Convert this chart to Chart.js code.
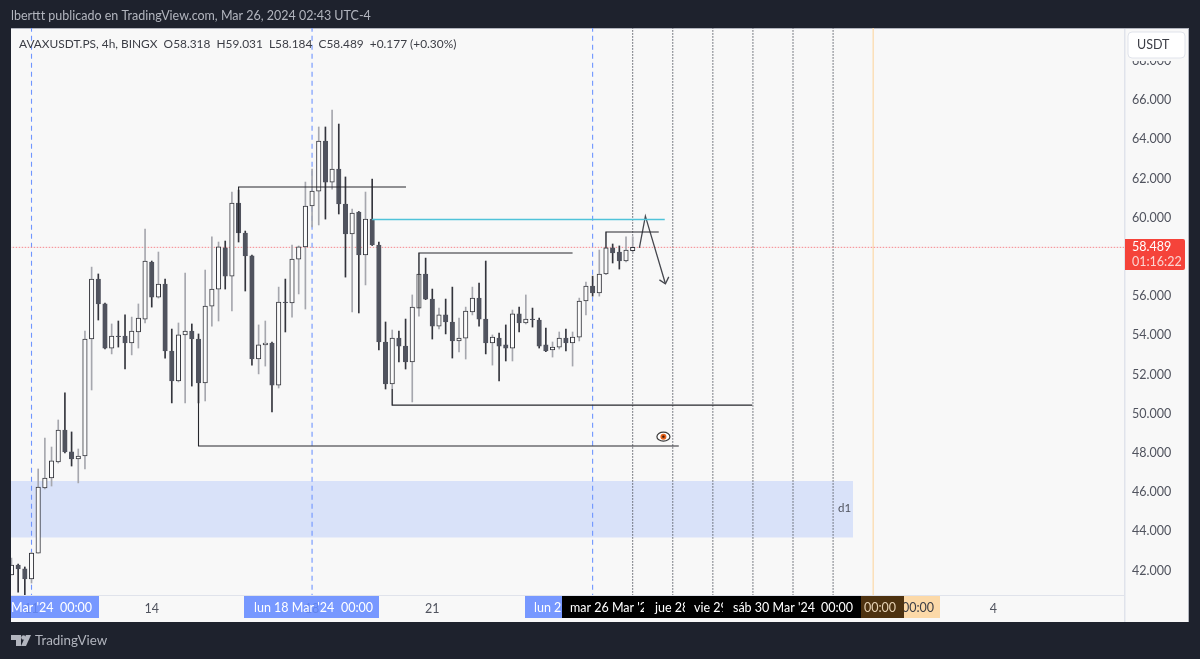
<!DOCTYPE html>
<html>
<head>
<meta charset="utf-8">
<style>
  html, body { margin: 0; padding: 0; background: #1e222d; }
  #wrap { position: relative; width: 1200px; height: 659px; }
</style>
<script src="https://cdn.jsdelivr.net/npm/chart.js@4.4.7/dist/chart.umd.min.js"></script>
</head>
<body>
<div id="wrap"><canvas id="avaxChart" width="1200" height="659"></canvas></div>
<script>
// bar number 0 is lun 11 Mar 00:00, 6 bars (4h) per day
const firstBar = -3;
const opens = [41.77,42.28,42.08,41.57,42.89,46.21,46.72,47.54,49.17,48.05,47.69,47.84,53.81,56.87,55.60,53.35,53.96,53.96,53.61,54.17,54.83,57.74,55.95,56.61,53.20,51.67,54.02,54.22,53.81,51.57,55.49,56.36,58.46,57.02,60.75,59.22,58.05,52.79,53.51,53.61,51.46,55.70,55.65,57.89,58.51,60.60,61.36,63.91,61.82,62.48,60.70,59.17,60.29,58.10,59.93,58.61,53.66,51.52,53.86,53.45,52.64,55.39,57.13,55.85,54.47,55.04,54.68,53.71,53.86,55.19,55.90,54.83,53.61,53.86,53.51,53.35,55.09,54.63,54.83,54.78,53.51,53.25,53.40,53.86,53.61,53.91,55.75,56.51,56.16,57.13,58.46,58.25,57.79,58.318];
const highs = [42.64,42.33,42.18,42.93,47.18,48.76,48.30,49.68,51.06,49.07,48.20,54.22,57.48,57.13,55.65,54.58,54.73,55.04,54.93,55.60,59.42,57.79,58.25,56.87,54.32,54.63,57.18,54.58,54.07,57.33,59.02,58.76,58.81,61.31,61.41,59.32,58.10,54.53,54.73,53.66,56.46,56.87,58.61,58.56,61.82,62.48,64.63,64.63,65.49,64.78,62.08,60.44,60.32,61.31,61.97,58.76,54.68,54.27,54.22,54.83,56.06,58.20,57.94,56.36,55.39,55.85,56.46,54.88,55.44,56.46,56.67,57.79,54.02,54.12,54.53,55.29,55.44,56.06,55.39,54.88,54.37,53.66,54.17,54.32,54.17,55.90,56.72,57.02,58.35,59.27,58.66,58.56,59.02,59.031];
const lows = [41.77,40.90,40.75,41.36,42.89,46.16,46.31,47.48,48.00,47.33,46.47,47.18,51.21,54.78,53.30,53.05,53.40,52.28,53.00,53.35,54.63,55.44,55.90,52.84,50.55,51.62,50.55,51.41,50.55,50.65,54.47,54.73,56.36,55.24,58.76,56.26,52.48,52.03,52.43,50.09,51.31,54.17,54.93,56.11,55.34,59.53,59.63,59.93,61.46,60.19,56.97,55.19,55.14,56.57,58.58,53.25,51.26,50.44,52.64,52.28,50.60,54.98,55.82,53.81,54.32,54.07,52.84,53.15,52.79,55.04,54.47,53.05,52.48,51.67,52.69,52.69,54.17,54.58,54.42,53.35,53.17,52.89,53.30,53.20,52.43,53.71,55.04,56.00,56.00,57.10,57.69,57.38,57.74,58.184];
const closes = [42.28,42.08,41.57,42.89,46.26,46.72,47.59,49.17,48.05,47.69,47.84,53.81,56.87,55.60,53.35,53.96,53.93,53.61,54.22,54.88,57.79,55.95,56.61,53.20,51.67,54.02,54.22,53.81,51.57,55.49,56.36,58.51,57.02,60.75,59.22,58.05,52.79,53.51,53.61,51.46,55.70,55.67,57.89,58.51,60.60,61.36,63.91,61.82,62.48,60.70,59.17,60.24,58.10,59.93,58.61,53.66,51.52,53.86,53.45,52.64,55.44,57.13,55.85,54.47,55.04,54.68,53.71,53.86,55.24,55.90,54.83,53.61,53.91,53.45,53.35,55.09,54.63,54.83,54.80,53.45,53.20,53.40,53.86,53.61,53.91,55.75,56.51,56.16,57.13,58.46,58.20,57.79,58.35,58.489];

const priceTicks = [42,44,46,48,50,52,54,56,58,60,62,64,66,68];
const timeTickBars = [0,18,42,60,84,102,126,144];
const timeTickLabels = ['11','14','18','21','25','28','Apr','4'];

const lastPrice = 58.489;
const blueLines = [0,42,84];
const dottedLines = [90,96,102,108,114,120];
const orangeLine = 126;

// drawings, as [bar, price] points
const zoneTop = 46.57;
const zoneBottom = 43.69;
const zoneBars = [-10,123];
const tealLine = [[51,59.91],[94.8,59.91]];
const blackLines = [
  [[31,59.22],[31,61.57],[56.06,61.57]],
  [[58,55.39],[58,58.20],[81,58.20]],
  [[86,58.46],[86,59.27],[93.9,59.27]],
  [[54,51.26],[54,50.44],[107.9,50.44]],
  [[25,51.57],[25,48.35],[96.9,48.35]]
];
const arrowLine = [[91,58.46],[91.9,60.08],[94.9,56.63]];
const arrowHead = [[94,56.83],[94.9,56.63],[95.4,56.98]];
const eyePoint = [94.6,48.83];
const zoneText = 'd1';

const fontName = 'Lato, sans-serif';
const barAt = i => firstBar + i;
const xyPts = pts => pts.map(p => ({x: p[0], y: p[1]}));
const isUp = i => closes[i] >= opens[i];

function vline(bar, color, dash, width, order) {
  return {
    type: 'line',
    data: [{x: bar, y: 30}, {x: bar, y: 80}],
    borderColor: color, borderWidth: width, borderDash: dash,
    pointRadius: 0, order: order
  };
}
function path(pts, color, width, order) {
  return {
    type: 'line', data: xyPts(pts), borderColor: color, borderWidth: width,
    pointRadius: 0, tension: 0, order: order
  };
}

const datasets = [];
// blue zone
datasets.push({
  type: 'line', data: xyPts([[zoneBars[0],zoneTop],[zoneBars[1],zoneTop]]),
  borderWidth: 0, pointRadius: 0, fill: '+1', backgroundColor: '#d9e2f9', order: 20
});
datasets.push({
  type: 'line', data: xyPts([[zoneBars[0],zoneBottom],[zoneBars[1],zoneBottom]]),
  borderWidth: 0, pointRadius: 0, fill: false, order: 20
});
blueLines.forEach(b => datasets.push(vline(b, '#6f95ff', [5,4], 1.1, 12)));
dottedLines.forEach(b => datasets.push(vline(b, '#555962', [1.5,1.5], 1, 12)));
datasets.push(vline(orangeLine, '#fcd9a8', [], 1.2, 12));
datasets.push({
  type: 'line', data: xyPts([[-10,lastPrice],[170,lastPrice]]),
  borderColor: '#f7868c', borderWidth: 1, borderDash: [1.5,1.5], pointRadius: 0, order: 11
});
// wicks then bodies
datasets.push({
  type: 'bar',
  data: opens.map((_, i) => ({x: barAt(i), y: [lows[i], highs[i]]})),
  backgroundColor: opens.map((_, i) => isUp(i) ? '#a6a7ae' : '#34353d'),
  barThickness: 1, grouped: false, order: 6
});
datasets.push({
  type: 'bar',
  data: opens.map((_, i) => ({x: barAt(i), y: [opens[i], closes[i]]})),
  backgroundColor: opens.map((_, i) => isUp(i) ? '#fbfbfb' : '#50535e'),
  borderColor: opens.map((_, i) => isUp(i) ? '#33343b' : '#50535e'),
  borderWidth: 1, borderSkipped: false,
  barThickness: 4.5, grouped: false, order: 5
});
datasets.push(path(tealLine, '#4fc3d9', 1.5, 3));
blackLines.forEach(l => datasets.push(path(l, '#26272c', 1.1, 3)));
datasets.push(path(arrowLine, '#45474e', 1.3, 3));
datasets.push(path(arrowHead, '#45474e', 1.3, 3));

function clipText(ctx, text, x, y, clipX, clipW, color) {
  ctx.save();
  ctx.beginPath();
  ctx.rect(clipX, 595, clipW, 24);
  ctx.clip();
  ctx.fillStyle = color;
  ctx.fillText(text, x, y);
  ctx.restore();
}

const overlayPlugin = {
  id: 'overlay',
  beforeDraw(chart) {
    const ctx = chart.ctx;
    ctx.save();
    ctx.fillStyle = '#1e222d';
    ctx.fillRect(0, 0, 1200, 659);
    ctx.fillStyle = '#f8f8f8';
    ctx.fillRect(11, 28, 1178, 594);
    ctx.fillStyle = '#b2b5be';
    ctx.fillRect(1188, 28, 1, 594);
    ctx.fillRect(11, 28, 1178, 1);
    ctx.fillStyle = '#e0e3eb';
    ctx.fillRect(1124, 29, 1.5, 593);
    ctx.fillRect(11, 595, 1113, 1);
    ctx.restore();
  },
  afterDraw(chart) {
    const ctx = chart.ctx;
    const xs = chart.scales.x, ys = chart.scales.y;
    ctx.save();
    ctx.textBaseline = 'middle';
    ctx.textAlign = 'left';

    // header and legend
    ctx.font = '12.5px ' + fontName;
    ctx.fillStyle = '#b2b5be';
    ctx.fillText('lberttt publicado en TradingView.com, Mar 26, 2024 02:43 UTC-4', 11, 16);
    ctx.font = '11.9px ' + fontName;
    ctx.fillStyle = '#3b3d45';
    ctx.fillText('AVAXUSDT.PS, 4h, BINGX  O58.318  H59.031  L58.184  C58.489  +0.177 (+0.30%)', 19, 44);

    // zone label
    ctx.fillStyle = '#50535e';
    ctx.font = '11.5px ' + fontName;
    ctx.fillText(zoneText, 838, 508);

    // eye marker
    const ex = xs.getPixelForValue(eyePoint[0]), ey = ys.getPixelForValue(eyePoint[1]);
    ctx.beginPath();
    ctx.ellipse(ex, ey, 6.5, 4.5, 0, 0, Math.PI * 2);
    ctx.fillStyle = '#fff'; ctx.fill();
    ctx.strokeStyle = '#3a3a3a'; ctx.lineWidth = 1.2; ctx.stroke();
    ctx.beginPath(); ctx.arc(ex, ey, 3, 0, Math.PI * 2);
    ctx.fillStyle = '#e8631c'; ctx.fill();
    ctx.beginPath(); ctx.arc(ex, ey, 1.2, 0, Math.PI * 2);
    ctx.fillStyle = '#3a1a08'; ctx.fill();

    // date labels on the time axis
    ctx.font = '12.5px ' + fontName;
    ctx.fillStyle = 'rgba(100,138,255,.88)';
    ctx.fillRect(11, 596, 88, 22);
    ctx.fillRect(244, 596, 135, 22);
    ctx.fillRect(525, 596, 40, 22);
    clipText(ctx, "Mar '24", 11, 608, 11, 88, '#fff');
    clipText(ctx, '00:00', 60, 608, 11, 88, '#fff');
    clipText(ctx, "lun 18 Mar '24", 254, 608, 244, 135, '#fff');
    clipText(ctx, '00:00', 341, 608, 244, 135, '#fff');
    clipText(ctx, "lun 25 Mar '24", 534, 608, 525, 37, '#fff');

    ctx.fillStyle = '#fcd9a8';
    ctx.fillRect(862, 596, 78, 22);
    clipText(ctx, '00:00', 902, 608, 862, 78, '#3b3d45');
    ctx.fillStyle = '#000';
    ctx.fillRect(562, 596, 299, 22);
    ctx.fillStyle = '#4d3210';
    ctx.fillRect(861, 596, 43, 22);
    clipText(ctx, "mar 26 Mar '24", 570, 608, 562, 82, '#fff');
    clipText(ctx, "jue 28 Mar '24", 655, 608, 650, 35, '#fff');
    clipText(ctx, "vie 29 Mar '24", 694, 608, 690, 33, '#fff');
    clipText(ctx, "sáb 30 Mar '24", 733, 608, 728, 90, '#fff');
    clipText(ctx, '00:00', 821, 608, 815, 40, '#fff');
    clipText(ctx, '00:00', 864, 608, 861, 43, '#e6d2b4');

    // price axis labels
    ctx.fillStyle = '#f8f8f8';
    ctx.fillRect(1126, 29, 62, 32);
    ctx.fillStyle = '#fff';
    ctx.strokeStyle = '#e0e3eb';
    ctx.lineWidth = 1;
    ctx.beginPath();
    ctx.roundRect(1128, 32, 57, 26, 4);
    ctx.fill(); ctx.stroke();
    ctx.fillStyle = '#3b3d45';
    ctx.fillText('USDT', 1137, 45);

    ctx.fillStyle = '#f5433a';
    ctx.beginPath();
    ctx.roundRect(1125, 239, 60, 31, [0,2,2,0]);
    ctx.fill();
    ctx.fillStyle = '#fff';
    ctx.fillText('58.489', 1132, 247);
    ctx.fillStyle = '#fbd5d2';
    ctx.fillText('01:16:22', 1132, 262);

    // logo
    ctx.fillStyle = '#b2b5be';
    ctx.beginPath();
    ctx.moveTo(11,635); ctx.lineTo(21,635); ctx.lineTo(21,646); ctx.lineTo(16,646); ctx.lineTo(16,640); ctx.lineTo(11,640);
    ctx.closePath(); ctx.fill();
    ctx.beginPath(); ctx.arc(23.5, 637.5, 2.3, 0, Math.PI * 2); ctx.fill();
    ctx.beginPath();
    ctx.moveTo(26,635); ctx.lineTo(31,635); ctx.lineTo(26,646); ctx.lineTo(21,646);
    ctx.closePath(); ctx.fill();
    ctx.font = '13.4px ' + fontName;
    ctx.fillText('TradingView', 35, 641);
    ctx.restore();
  }
};

new Chart(document.getElementById('avaxChart'), {
  data: { datasets: datasets },
  plugins: [overlayPlugin],
  options: {
    responsive: false,
    animation: false,
    events: [],
    layout: { padding: { left: 11, right: 0, top: 28, bottom: 0 } },
    plugins: { legend: { display: false }, tooltip: { enabled: false } },
    scales: {
      x: {
        type: 'linear', min: -3.07, max: 163.55, offset: false,
        grid: { display: false, drawTicks: false }, border: { display: false },
        afterFit(axis) { axis.height = 64; },
        afterBuildTicks(axis) { axis.ticks = timeTickBars.map(v => ({value: v})); },
        ticks: {
          autoSkip: false, maxRotation: 0, padding: 6,
          color: '#50535e', font: { size: 12.5, family: fontName },
          callback: v => timeTickLabels[timeTickBars.indexOf(v)]
        }
      },
      y: {
        type: 'linear', position: 'right', min: 40.75, max: 69.68,
        grid: { display: false }, border: { display: false },
        afterFit(axis) { axis.width = 76; },
        afterBuildTicks(axis) { axis.ticks = priceTicks.map(v => ({value: v})); },
        ticks: {
          padding: 0, color: '#50535e', font: { size: 12.5, family: fontName },
          callback: v => v.toFixed(3)
        }
      }
    }
  }
});
</script>
</body>
</html>
